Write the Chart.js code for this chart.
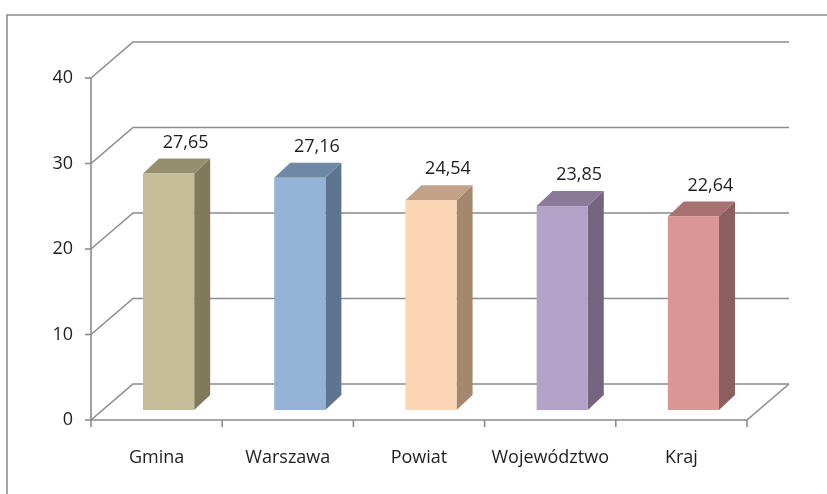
<!DOCTYPE html>
<html>
<head>
<meta charset="utf-8">
<script src="https://cdn.jsdelivr.net/npm/chart.js@4"></script>
<style>
  html, body { margin: 0; padding: 0; background: #fff; }
  #wrap { width: 827px; height: 494px; }
</style>
</head>
<body>
<div id="wrap"><canvas id="chart" width="827" height="494"></canvas></div>
<script>
// data
const categories = ["Gmina", "Warszawa", "Powiat", "Województwo", "Kraj"];
const values = [27.65, 27.16, 24.54, 23.85, 22.64];
const valueLabels = ["27,65", "27,16", "24,54", "23,85", "22,64"];
const yTicks = [0, 10, 20, 30, 40];

// colours: front, side, top
const frontColors = ["#c4bd97", "#95b3d7", "#fcd5b5", "#b3a2c7", "#d99694"];
const sideColors = ["#7f7a5c", "#5e7491", "#a3876f", "#736480", "#8c5f5e"];
const topColors = ["#958e6f", "#6f88a6", "#c2a189", "#8a7a98", "#a67170"];

const FONT = "'Open Sans', 'DejaVu Sans', sans-serif";
const GRID = "#8c8c8c";
const TEXT = "#1e1e1e";

// depth of the back wall and of the bars (px)
const WALL_DX = 42, WALL_DY = -36;
const BAR_SHIFT_X = 12, BAR_SHIFT_Y = -10;
const BAR_DX = 16, BAR_DY = -15;

const threeD = {
  id: "threeD",
  beforeDraw(chart) {
    const ctx = chart.ctx;
    const x = chart.scales.x, y = chart.scales.y;
    const left = x.left, right = x.right;
    ctx.save();
    // outer frame
    ctx.strokeStyle = "#8a8a8a";
    ctx.lineWidth = 1.5;
    ctx.beginPath();
    ctx.moveTo(7, 494);
    ctx.lineTo(7, 15);
    ctx.lineTo(827, 15);
    ctx.stroke();

    ctx.strokeStyle = GRID;
    ctx.lineWidth = 1.6;
    // back wall gridlines + slants
    yTicks.forEach(v => {
      const py = y.getPixelForValue(v);
      ctx.beginPath();
      ctx.moveTo(left, py);
      ctx.lineTo(left + WALL_DX, py + WALL_DY);
      ctx.lineTo(right + WALL_DX, py + WALL_DY);
      ctx.stroke();
      // tick mark
      ctx.beginPath();
      ctx.moveTo(left - 6, py);
      ctx.lineTo(left, py);
      ctx.stroke();
    });
    const y0 = y.getPixelForValue(0);
    // floor right edge, front edge and the axis line
    ctx.beginPath();
    ctx.moveTo(right + WALL_DX, y0 + WALL_DY);
    ctx.lineTo(right, y0);
    ctx.lineTo(left, y0);
    ctx.lineTo(left, y.getPixelForValue(40));
    ctx.stroke();
    // category tick marks
    const n = categories.length;
    const step = (right - left) / n;
    for (let i = 0; i <= n; i++) {
      const px = left + i * step;
      ctx.beginPath();
      ctx.moveTo(px, y0);
      ctx.lineTo(px, y0 + 7);
      ctx.stroke();
    }
    ctx.restore();
  },
  afterDatasetsDraw(chart) {
    const ctx = chart.ctx;
    const meta = chart.getDatasetMeta(0);
    ctx.save();
    meta.data.forEach((bar, i) => {
      const w = bar.width;
      const x0 = bar.x - w / 2 + BAR_SHIFT_X;
      const x1 = bar.x + w / 2 + BAR_SHIFT_X;
      const yt = bar.y + BAR_SHIFT_Y;
      const yb = bar.base + BAR_SHIFT_Y;
      // side
      ctx.fillStyle = sideColors[i];
      ctx.beginPath();
      ctx.moveTo(x1, yb);
      ctx.lineTo(x1 + BAR_DX, yb + BAR_DY);
      ctx.lineTo(x1 + BAR_DX, yt + BAR_DY);
      ctx.lineTo(x1, yt);
      ctx.closePath();
      ctx.fill();
      // top
      ctx.fillStyle = topColors[i];
      ctx.beginPath();
      ctx.moveTo(x0, yt);
      ctx.lineTo(x0 + BAR_DX, yt + BAR_DY);
      ctx.lineTo(x1 + BAR_DX, yt + BAR_DY);
      ctx.lineTo(x1, yt);
      ctx.closePath();
      ctx.fill();
      // front
      ctx.fillStyle = frontColors[i];
      ctx.fillRect(x0, yt, w, yb - yt);
      // value label
      ctx.fillStyle = TEXT;
      ctx.font = "18px " + FONT;
      ctx.textAlign = "center";
      ctx.textBaseline = "middle";
      ctx.fillText(valueLabels[i], bar.x + BAR_SHIFT_X + 17, yt - 31);
    });
    ctx.restore();
  }
};

new Chart(document.getElementById("chart"), {
  type: "bar",
  data: {
    labels: categories,
    datasets: [{
      data: values,
      backgroundColor: "rgba(0,0,0,0)",
      borderWidth: 0,
      barPercentage: 0.39,
      categoryPercentage: 1
    }]
  },
  options: {
    responsive: false,
    animation: false,
    layout: { padding: { left: 0, top: 78, right: 80, bottom: 0 } },
    plugins: { legend: { display: false }, tooltip: { enabled: false } },
    scales: {
      x: {
        grid: { display: false, drawTicks: false },
        border: { display: false },
        ticks: { color: TEXT, font: { family: FONT, size: 18 }, padding: 27 },
        afterFit: s => { s.height = 74; }
      },
      y: {
        min: 0, max: 40,
        grid: { display: false, drawTicks: false },
        border: { display: false },
        ticks: { stepSize: 10, color: TEXT, font: { family: FONT, size: 18 }, padding: 18 },
        afterFit: s => { s.width = 91; }
      }
    }
  },
  plugins: [threeD]
});
</script>
</body>
</html>
